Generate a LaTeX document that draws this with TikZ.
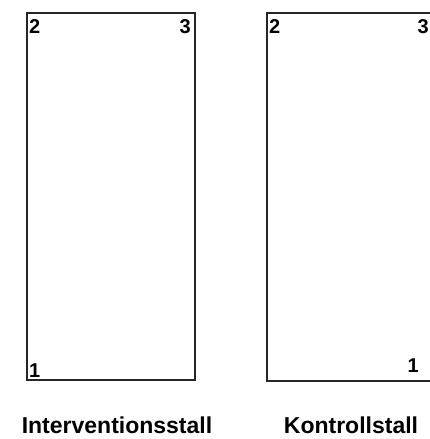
\documentclass[tikz,border=0pt]{standalone}
\usepackage{fontspec}
\setmainfont{Liberation Sans}
\tikzset{
  stall/.style={draw=black!85, line width=1.1pt},
  num/.style={font=\fontsize{20}{20}\selectfont\bfseries, inner sep=0pt},
  lab/.style={font=\fontsize{23}{23}\selectfont\bfseries, inner sep=0pt}
}
\begin{document}
\begin{tikzpicture}
\fill[white] (0pt,0pt) rectangle (430pt,-439pt);
\useasboundingbox (0pt,0pt) rectangle (430pt,-439pt);
\coordinate (s1tl) at (27pt,-13pt);
\coordinate (s1br) at (195pt,-380pt);
\draw[stall] (s1tl) rectangle (s1br);
\coordinate (s2tr) at (430pt,-13pt);
\coordinate (s2tl) at (267pt,-13pt);
\coordinate (s2bl) at (267pt,-381pt);
\coordinate (s2br) at (430pt,-381pt);
\draw[stall] (s2tr) -- (s2tl) -- (s2bl) -- (s2br);
\node[num, anchor=base west] (a2) at (29pt,-33pt) {2};
\node[num, anchor=base east] (a3) at (191pt,-33pt) {3};
\node[num, anchor=base west] (a1) at (29pt,-377pt) {1};
\node[num, anchor=base west] (b2) at (269pt,-33pt) {2};
\node[num, anchor=base east] (b3) at (429pt,-33pt) {3};
\node[num, anchor=base east] (b1) at (419pt,-372pt) {1};
\node[lab, anchor=base] (l1) at (117pt,-433pt) {Interventionsstall};
\node[lab, anchor=base] (l2) at (351pt,-433pt) {Kontrollstall};
\end{tikzpicture}
\end{document}
